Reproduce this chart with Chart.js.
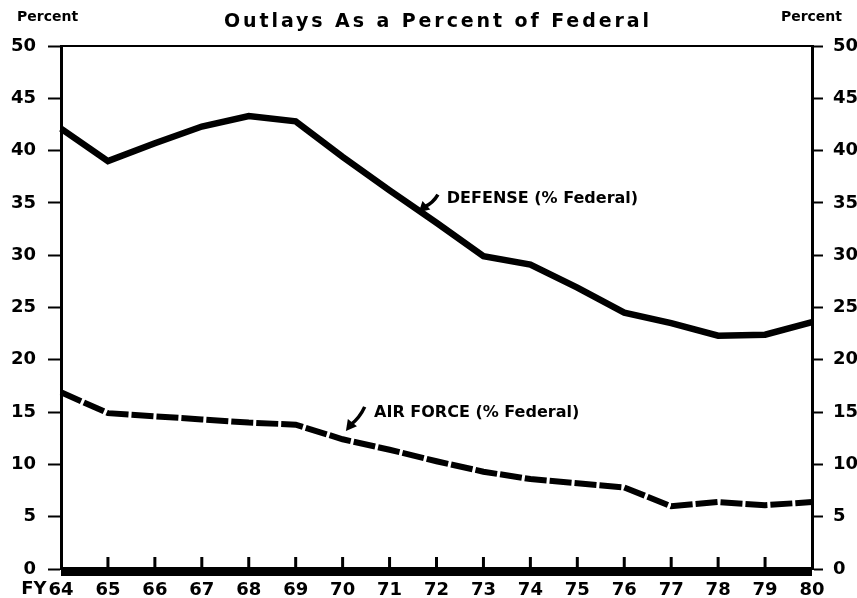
<!DOCTYPE html>
<html><head><meta charset="utf-8">
<script src="https://cdn.jsdelivr.net/npm/chart.js@4.4.1/dist/chart.umd.min.js"></script>
<style>html,body{margin:0;padding:0;background:#fff;}#wrap{width:857px;height:598px;}</style>
</head><body><div id="wrap"><canvas id="c" width="857" height="598"></canvas></div>
<script>
// ---- data ----
const years = ['64','65','66','67','68','69','70','71','72','73','74','75','76','77','78','79','80'];
const defense = [42.1, 39.0, 40.7, 42.3, 43.3, 42.8, 39.4, 36.2, 33.1, 29.9, 29.1, 26.9, 24.5, 23.5, 22.3, 22.4, 23.6];
const airForce = [16.9, 14.9, 14.6, 14.3, 14.0, 13.8, 12.4, 11.4, 10.3, 9.3, 8.6, 8.2, 7.8, 6.0, 6.4, 6.1, 6.4];
const yMin = 0, yMax = 50, yStep = 5;
const TITLE = 'Outlays As a Percent of Federal';
const AXIS_LABEL = 'Percent';
const FY_PREFIX = 'FY';
const DEFENSE_LABEL = 'DEFENSE (% Federal)';
const AIRFORCE_LABEL = 'AIR FORCE (% Federal)';

const FONT = '"DejaVu Sans", "Liberation Sans", sans-serif';

const decor = {
  id: 'decor',
  afterDraw(chart) {
    const ctx = chart.ctx;
    const a = chart.chartArea;
    const xs = chart.scales.x, ys = chart.scales.y;
    ctx.save();
    ctx.fillStyle = '#000';
    ctx.strokeStyle = '#000';
    // top frame line
    ctx.lineWidth = 2;
    ctx.beginPath(); ctx.moveTo(a.left, a.top); ctx.lineTo(a.right, a.top); ctx.stroke();
    // bottom thick bar
    ctx.fillRect(a.left, a.bottom - 2, a.right - a.left, 9);
    // inward x ticks
    ctx.lineWidth = 3;
    for (let i = 1; i < years.length - 1; i++) {
      const x = xs.getPixelForValue(i);
      ctx.beginPath(); ctx.moveTo(x, a.bottom); ctx.lineTo(x, a.bottom - 12); ctx.stroke();
    }
    // FY prefix
    ctx.font = 'bold 18px ' + FONT;
    ctx.textBaseline = 'middle';
    ctx.textAlign = 'right';
    const w64 = ctx.measureText(years[0]).width;
    ctx.fillText(FY_PREFIX, xs.getPixelForValue(0) - w64 / 2 - 2, 589);
    // title
    ctx.font = 'bold 19px ' + FONT;
    ctx.textAlign = 'left';
    const nat = ctx.measureText(TITLE).width;
    const target = 425;
    const ls = (target - nat) / (TITLE.length - 1);
    ctx.letterSpacing = ls.toFixed(2) + 'px';
    ctx.fillText(TITLE, (a.left + a.right) / 2 - target / 2, 22);
    ctx.letterSpacing = '0px';
    // Percent labels
    ctx.font = 'bold 14px ' + FONT;
    ctx.textAlign = 'left';
    ctx.fillText(AXIS_LABEL, 17, 17);
    ctx.textAlign = 'right';
    ctx.fillText(AXIS_LABEL, 842, 17);
    // annotations
    const P = (i, v) => [xs.getPixelForValue(i), ys.getPixelForValue(v)];
    function arrow(tail, tip) {
      ctx.lineWidth = 3.5;
      const [tx, ty] = tail, [hx, hy] = tip;
      const ang = Math.atan2(hy - ty, hx - tx);
      const bx = hx - 8 * Math.cos(ang), by = hy - 8 * Math.sin(ang);
      ctx.beginPath();
      ctx.moveTo(tx, ty);
      ctx.quadraticCurveTo((tx + bx) / 2 + 2, (ty + by) / 2 + 2, bx, by);
      ctx.stroke();
      ctx.beginPath();
      ctx.moveTo(hx, hy);
      ctx.lineTo(hx - 12 * Math.cos(ang - 0.5), hy - 12 * Math.sin(ang - 0.5));
      ctx.lineTo(hx - 12 * Math.cos(ang + 0.5), hy - 12 * Math.sin(ang + 0.5));
      ctx.closePath(); ctx.fill();
    }
    ctx.font = 'bold 16px ' + FONT;
    ctx.textAlign = 'left';
    let p = P(8.22, 35.4);
    ctx.fillText(DEFENSE_LABEL, p[0], p[1]);
    arrow(P(8.03, 35.8), P(7.62, 34.1));
    p = P(6.67, 14.9);
    ctx.fillText(AIRFORCE_LABEL, p[0], p[1]);
    arrow(P(6.47, 15.5), P(6.07, 13.2));
    ctx.restore();
  }
};

const tickFont = { family: FONT, size: 18, weight: 'bold' };

new Chart(document.getElementById('c'), {
  type: 'line',
  data: {
    labels: years,
    datasets: [
      { label: DEFENSE_LABEL, data: defense, borderColor: '#000', borderWidth: 6.5, pointRadius: 0, tension: 0, fill: false, yAxisID: 'y' },
      { label: AIRFORCE_LABEL, data: airForce, borderColor: '#000', borderWidth: 6, borderDash: [22, 3], pointRadius: 0, tension: 0, fill: false, yAxisID: 'y' }
    ]
  },
  options: {
    responsive: false,
    devicePixelRatio: 1,
    animation: false,
    layout: { padding: { top: 46, left: 0, right: 0, bottom: 0 } },
    plugins: { legend: { display: false }, title: { display: false }, tooltip: { enabled: false } },
    scales: {
      x: {
        type: 'category',
        offset: false,
        grid: { display: true, drawOnChartArea: false, drawTicks: false },
        border: { display: false },
        ticks: { color: '#000', font: tickFont, padding: 11, maxRotation: 0, autoSkip: false },
        afterFit(s) { s.height = 29; }
      },
      y: {
        position: 'left', min: yMin, max: yMax,
        ticks: { stepSize: yStep, color: '#000', font: tickFont, padding: 12 },
        grid: { drawOnChartArea: false, drawTicks: true, tickLength: 13, tickWidth: 2, tickColor: '#000' },
        border: { display: true, width: 3, color: '#000' },
        afterFit(s) { s.width = 61; }
      },
      y2: {
        position: 'right', min: yMin, max: yMax,
        ticks: { stepSize: yStep, color: '#000', font: tickFont, padding: 10 },
        grid: { drawOnChartArea: false, drawTicks: true, tickLength: 11, tickWidth: 2, tickColor: '#000' },
        border: { display: true, width: 3, color: '#000' },
        afterFit(s) { s.width = 45; }
      }
    }
  },
  plugins: [decor]
});
</script>
</body></html>
